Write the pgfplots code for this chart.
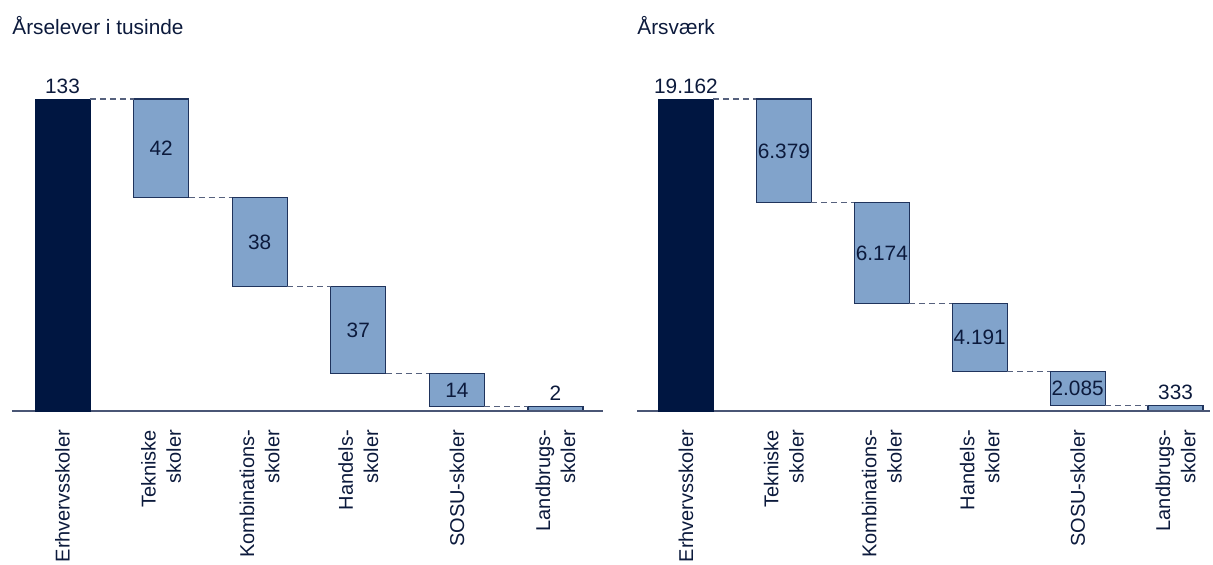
\documentclass[border=0pt]{standalone}
\usepackage{fontspec}
\setmainfont{Liberation Sans}
\usepackage{pgfplots}
\pgfplotsset{compat=1.18}
\definecolor{navy}{HTML}{001641}
\definecolor{lightbar}{HTML}{81A3CB}
\definecolor{barline}{HTML}{1F335C}
\definecolor{txt}{HTML}{0C1A3C}
\definecolor{axline}{HTML}{4A5675}
\definecolor{conncol}{HTML}{56617D}
\newcommand{\lblfont}{\fontsize{10.4}{12.6}\selectfont}
\newcommand{\tickfont}{\fontsize{10}{12.6}\selectfont}
\pgfplotsset{
  wfbase/.style={scale only axis, clip=false, height=156pt, ymin=0},
  wfaxis/.style={wfbase,
    axis x line*=bottom, axis y line=none,
    x axis line style={-, draw=axline, line width=0.75pt},
    xtick={0,...,5}, major tick length=0pt,
    xticklabels={Erhvervsskoler, {Tekniske\\skoler}, {Kombinations-\\skoler}, {Handels-\\skoler}, SOSU-skoler, {Landbrugs-\\skoler}},
    xticklabel style={rotate=90, anchor=east, align=right, font=\tickfont, text=txt},
    xticklabel shift=6pt,
    ytick=\empty,
    title style={at={(rel axis cs:0,1)}, anchor=base west, yshift=26pt, font=\lblfont, text=txt, inner sep=0pt},
  },
  connline/.style={draw=conncol, densely dashed, line width=0.6pt},
  midlbl/.style={only marks, mark=*, mark size=0pt, mark options={draw=none, fill=none},
    nodes near coords, point meta=explicit symbolic,
    nodes near coords style={anchor=center, text=txt, font=\lblfont}},
  toplbl/.style={only marks, mark=*, mark size=0pt, mark options={draw=none, fill=none},
    nodes near coords, point meta=explicit symbolic,
    nodes near coords style={anchor=south, text=txt, font=\lblfont, inner sep=2.5pt}},
}
\begin{document}
\begin{tikzpicture}
\useasboundingbox (-6pt,-77pt) rectangle (600.5pt,205.5pt);
% ---------- left panel ----------
\begin{axis}[wfbase, hide axis, at={(0pt,0pt)}, anchor=south west,
  width=295.5pt, xmin=-0.512, xmax=5.482, ymax=133,
  ybar stacked, bar width=27.5pt]
\addplot[draw=none, fill=none] coordinates {(1,91)(2,53)(3,16)(4,2)(5,0)};
\addplot[fill=lightbar, draw=barline, line width=0.6pt] coordinates {(1,42)(2,38)(3,37)(4,14)(5,2)};
\end{axis}
\begin{axis}[wfaxis, at={(0pt,0pt)}, anchor=south west,
  width=295.5pt, xmin=-0.512, xmax=5.482, ymax=133,
  title={Årselever i tusinde}]
\addplot[ybar, bar width=27.5pt, fill=navy, draw=navy] coordinates {(0,133)};
\addplot[connline] coordinates {(0.279,133)(0.721,133)};
\addplot[connline] coordinates {(1.279,91)(1.721,91)};
\addplot[connline] coordinates {(2.279,53)(2.721,53)};
\addplot[connline] coordinates {(3.279,16)(3.721,16)};
\addplot[connline] coordinates {(4.279,2)(4.721,2)};
\addplot[midlbl] coordinates {(1,112)[42] (2,72)[38] (3,34.5)[37] (4,9)[14]};
\addplot[toplbl] coordinates {(0,133)[133] (5,2)[2]};
\end{axis}
% ---------- right panel ----------
\begin{axis}[wfbase, hide axis, at={(312.5pt,0pt)}, anchor=south west,
  width=286.5pt, xmin=-0.50, xmax=5.352, ymax=19162,
  ybar stacked, bar width=27.5pt]
\addplot[draw=none, fill=none] coordinates {(1,12783)(2,6609)(3,2418)(4,333)(5,0)};
\addplot[fill=lightbar, draw=barline, line width=0.6pt] coordinates {(1,6379)(2,6174)(3,4191)(4,2085)(5,333)};
\end{axis}
\begin{axis}[wfaxis, at={(312.5pt,0pt)}, anchor=south west,
  width=286.5pt, xmin=-0.50, xmax=5.352, ymax=19162,
  title={Årsværk}]
\addplot[ybar, bar width=27.5pt, fill=navy, draw=navy] coordinates {(0,19162)};
\addplot[connline] coordinates {(0.281,19162)(0.719,19162)};
\addplot[connline] coordinates {(1.281,12783)(1.719,12783)};
\addplot[connline] coordinates {(2.281,6609)(2.719,6609)};
\addplot[connline] coordinates {(3.281,2418)(3.719,2418)};
\addplot[connline] coordinates {(4.281,333)(4.719,333)};
\addplot[midlbl] coordinates {(1,15972.5)[6.379] (2,9696)[6.174] (3,4513.5)[4.191] (4,1375.5)[2.085]};
\addplot[toplbl] coordinates {(0,19162)[19.162] (5,333)[333]};
\end{axis}
\end{tikzpicture}
\end{document}
